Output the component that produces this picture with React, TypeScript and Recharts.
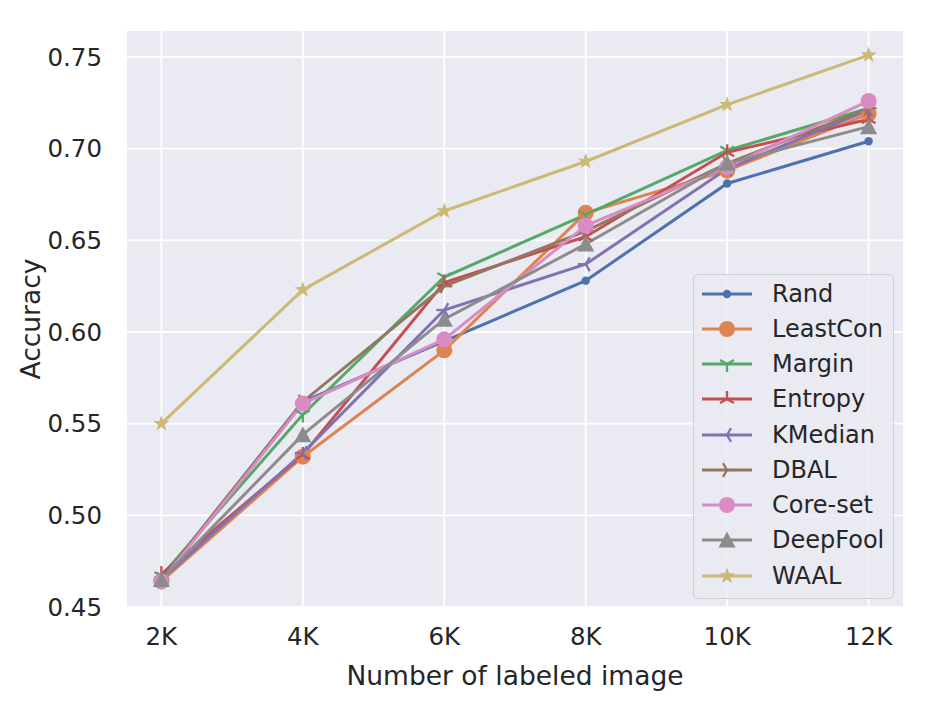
import React from 'react';
import { LineChart, Line, XAxis, YAxis, CartesianGrid } from 'recharts';

// labeled images, in thousands
const labeled = [2, 4, 6, 8, 10, 12];

const rand = [0.465, 0.562, 0.595, 0.628, 0.681, 0.704];
const leastCon = [0.464, 0.532, 0.590, 0.665, 0.688, 0.719];
const margin = [0.467, 0.555, 0.630, 0.664, 0.699, 0.722];
const entropy = [0.468, 0.533, 0.627, 0.652, 0.698, 0.716];
const kMedian = [0.465, 0.534, 0.612, 0.637, 0.689, 0.721];
const dbal = [0.465, 0.562, 0.625, 0.655, 0.692, 0.722];
const coreSet = [0.464, 0.561, 0.596, 0.658, 0.690, 0.726];
const deepFool = [0.465, 0.544, 0.607, 0.648, 0.692, 0.712];
const waal = [0.550, 0.623, 0.666, 0.693, 0.724, 0.751];

const yTicks = [0.45, 0.5, 0.55, 0.6, 0.65, 0.7, 0.75];

type MarkerKind = 'dot' | 'circle' | 'triDown' | 'triUp' | 'triLeft' | 'triRight' | 'triangle' | 'star';

const series: { key: string; name: string; values: number[]; color: string; marker: MarkerKind }[] = [
  { key: 'rand', name: 'Rand', values: rand, color: '#4c72b0', marker: 'dot' },
  { key: 'leastCon', name: 'LeastCon', values: leastCon, color: '#dd8452', marker: 'circle' },
  { key: 'margin', name: 'Margin', values: margin, color: '#55a868', marker: 'triDown' },
  { key: 'entropy', name: 'Entropy', values: entropy, color: '#c44e52', marker: 'triUp' },
  { key: 'kMedian', name: 'KMedian', values: kMedian, color: '#8172b3', marker: 'triLeft' },
  { key: 'dbal', name: 'DBAL', values: dbal, color: '#937860', marker: 'triRight' },
  { key: 'coreSet', name: 'Core-set', values: coreSet, color: '#da8bc3', marker: 'circle' },
  { key: 'deepFool', name: 'DeepFool', values: deepFool, color: '#8c8c8c', marker: 'triangle' },
  { key: 'waal', name: 'WAAL', values: waal, color: '#ccb974', marker: 'star' },
];

const data = labeled.map((k, i) => {
  const row: Record<string, number> = { k };
  series.forEach((s) => { row[s.key] = s.values[i]; });
  return row;
});

const TEXT = '#262626';
const TICK_FONT = 24.5;
const LABEL_FONT = 26.5;
const LEGEND_FONT = 24;

function triLines(cx: number, cy: number, angles: number[], s: number, color: string) {
  return angles.map((a, i) => {
    const r = (a * Math.PI) / 180;
    return (
      <line key={i} x1={cx} y1={cy} x2={cx + s * Math.cos(r)} y2={cy + s * Math.sin(r)}
        stroke={color} strokeWidth={2.3} />
    );
  });
}

function Marker({ kind, cx, cy, color }: { kind: MarkerKind; cx: number; cy: number; color: string }) {
  if (cx == null || cy == null) return null;
  switch (kind) {
    case 'dot':
      return <circle cx={cx} cy={cy} r={4.2} fill={color} />;
    case 'circle':
      return <circle cx={cx} cy={cy} r={8} fill={color} />;
    case 'triDown':
      return <g>{triLines(cx, cy, [90, 210, 330], 8, color)}</g>;
    case 'triUp':
      return <g>{triLines(cx, cy, [270, 30, 150], 8, color)}</g>;
    case 'triLeft':
      return <g>{triLines(cx, cy, [180, 60, 300], 8, color)}</g>;
    case 'triRight':
      return <g>{triLines(cx, cy, [0, 120, 240], 8, color)}</g>;
    case 'triangle':
      return <path d={`M${cx},${cy - 8.5}L${cx + 8.5},${cy + 7.5}L${cx - 8.5},${cy + 7.5}Z`} fill={color} />;
    case 'star': {
      const pts: string[] = [];
      for (let i = 0; i < 10; i++) {
        const r = i % 2 === 0 ? 8.5 : 3.4;
        const a = (-90 + i * 36) * Math.PI / 180;
        pts.push(`${cx + r * Math.cos(a)},${cy + r * Math.sin(a)}`);
      }
      return <polygon points={pts.join(' ')} fill={color} />;
    }
  }
  return null;
}

const LegendBox = () => (
  <div style={{
    position: 'absolute', left: 693, top: 274,
    width: 201, height: 325, boxSizing: 'border-box', border: '1.5px solid #cfcfd6',
    borderRadius: 5, background: 'rgba(234,234,242,0.85)', paddingTop: 1,
  }}>
    {series.map((s) => (
      <div key={s.key} style={{ height: 35.25, display: 'flex', alignItems: 'center' }}>
        <svg width={70} height={30} style={{ marginLeft: 4 }}>
          <line x1={4} y1={15} x2={54} y2={15} stroke={s.color} strokeWidth={3} />
          <Marker kind={s.marker} cx={29} cy={15} color={s.color} />
        </svg>
        <span style={{ fontSize: LEGEND_FONT, color: TEXT, marginLeft: 4, lineHeight: 1 }}>{s.name}</span>
      </div>
    ))}
  </div>
);

export default function App() {
  return (
    <div style={{ position: 'absolute', left: 0, top: 0, width: 935, height: 705, background: '#ffffff', fontFamily: 'DejaVu Sans' }}>
      <LineChart width={935} height={705} data={data}
        margin={{ top: 30, right: 31, bottom: 67, left: 0 }}
        style={{ fontFamily: 'DejaVu Sans' }}>
        <CartesianGrid fill="#eaeaf2" stroke="#ffffff" strokeWidth={1.8} />
        <XAxis dataKey="k" type="number" domain={[1.5, 12.5]} ticks={labeled} allowDataOverflow
          height={30} tickFormatter={(v: number) => `${v}K`} axisLine={false} tickLine={false} tickMargin={14}
          tick={{ fill: TEXT, fontSize: TICK_FONT }}
          label={{
            content: () => (
              <text x={515} y={675} textAnchor="middle" dominantBaseline="central"
                fill={TEXT} fontSize={LABEL_FONT}>Number of labeled image</text>
            ),
          }} />
        <YAxis type="number" domain={[0.4495, 0.7647]} ticks={yTicks} allowDataOverflow width={126}
          tickFormatter={(v: number) => v.toFixed(2)} axisLine={false} tickLine={false} tickMargin={18}
          tick={{ fill: TEXT, fontSize: TICK_FONT }}
          label={{
            content: () => (
              <text x={30} y={319} textAnchor="middle" dominantBaseline="central"
                transform="rotate(-90 30 319)" fill={TEXT} fontSize={LABEL_FONT}>Accuracy</text>
            ),
          }} />
        {series.map((s) => (
          <Line key={s.key} dataKey={s.key} name={s.name} type="linear" stroke={s.color}
            strokeWidth={3} isAnimationActive={false} activeDot={false}
            dot={(p: any) => (
              <Marker key={`${s.key}-${p.index}`} kind={s.marker} cx={p.cx} cy={p.cy} color={s.color} />
            )} />
        ))}
      </LineChart>
      <LegendBox />
    </div>
  );
}
